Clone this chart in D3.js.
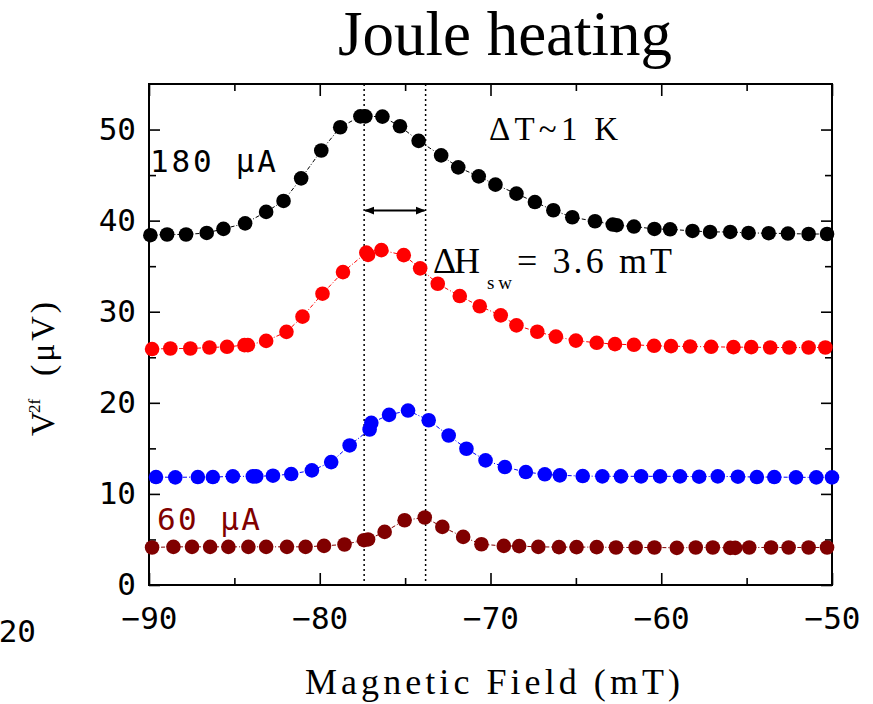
<!DOCTYPE html>
<html>
<head>
<meta charset="utf-8">
<script src="https://cdn.jsdelivr.net/npm/d3@7"></script>
<style>
  body { margin: 0; background: #fff; }
  svg { display: block; }
</style>
</head>
<body>
<div id="chart-area"></div>
<script>
// field (mT) and V2f (uV), one pair per current
const field180 = [-89.92, -88.94, -87.83, -86.62, -85.64, -84.37, -83.14, -82.12, -81.09, -79.91,
  -78.80, -77.62, -77.33, -76.33, -75.30, -74.21, -72.89, -71.89, -70.69, -69.71,
  -68.48, -67.40, -66.32, -65.21, -63.88, -62.84, -62.61, -61.60, -60.40, -59.48,
  -58.17, -57.14, -55.96, -54.89, -53.71, -52.58, -51.37, -50.29]
const v180 = [38.4, 38.48, 38.48, 38.65, 39.1, 39.7, 40.96, 42.16, 44.64, 47.7,
  50.25, 51.45, 51.45, 51.42, 50.36, 48.76, 47.16, 45.85, 44.86, 43.95,
  42.96, 42.04, 41.14, 40.37, 39.93, 39.57, 39.5, 39.35, 39.09, 39.05,
  38.87, 38.76, 38.76, 38.65, 38.62, 38.58, 38.53, 38.53]

const fieldRed = [-89.82, -88.75, -87.58, -86.46, -85.43, -84.41, -84.21, -83.14, -81.95, -81.01,
  -79.84, -78.64, -77.27, -77.17, -76.39, -75.08, -74.12, -73.09, -71.80, -70.63,
  -69.40, -68.48, -67.26, -66.17, -65.0, -63.78, -62.71, -61.60, -60.42, -59.43,
  -58.31, -57.08, -55.77, -54.73, -53.62, -52.50, -51.37, -50.39]
const vRed = [25.9, 25.96, 25.96, 26.07, 26.15, 26.33, 26.33, 26.8, 27.79, 29.46,
  31.98, 34.35, 36.49, 36.24, 36.76, 36.21, 34.76, 33.07, 31.72, 30.6,
  29.6, 28.5, 27.8, 27.27, 26.83, 26.59, 26.44, 26.37, 26.26, 26.22,
  26.18, 26.15, 26.11, 26.11, 26.07, 26.07, 26.07, 26.07]

const fieldBlue = [-89.59, -88.46, -87.14, -86.26, -85.09, -83.92, -83.72, -82.74, -81.67, -80.46,
  -79.33, -78.25, -77.08, -76.98, -75.94, -74.83, -73.62, -72.45, -71.41, -70.29,
  -69.16, -67.93, -66.82, -65.94, -64.60, -63.45, -62.36, -61.18, -60.07, -58.90,
  -57.78, -56.69, -55.51, -54.40, -53.38, -52.11, -50.92, -50.0]
const vBlue = [11.85, 11.82, 11.85, 11.85, 11.93, 11.93, 11.93, 12.0, 12.18, 12.58,
  13.49, 15.32, 17.07, 17.8, 18.68, 19.15, 18.09, 16.41, 14.96, 13.68,
  12.95, 12.4, 12.15, 12.04, 11.96, 11.93, 11.93, 11.93, 11.93, 11.93,
  11.89, 11.93, 11.89, 11.85, 11.85, 11.82, 11.82, 11.82]

const field60 = [-89.82, -88.57, -87.48, -86.42, -85.35, -84.18, -83.14, -81.92, -80.83, -79.75,
  -78.55, -77.41, -77.17, -76.20, -75.03, -73.85, -72.82, -71.60, -70.53, -69.22,
  -68.32, -67.20, -65.99, -64.96, -63.78, -62.65, -61.50, -60.40, -59.09, -57.98,
  -56.98, -55.96, -55.67, -54.85, -53.57, -52.54, -51.37, -50.29]
const v60 = [4.12, 4.19, 4.19, 4.19, 4.19, 4.19, 4.19, 4.19, 4.19, 4.3,
  4.45, 4.92, 5.0, 5.83, 7.11, 7.41, 6.38, 5.28, 4.47, 4.29,
  4.27, 4.19, 4.16, 4.16, 4.16, 4.12, 4.12, 4.12, 4.08, 4.12,
  4.12, 4.08, 4.08, 4.12, 4.12, 4.12, 4.12, 4.12]

const switchFields = [-77.4, -73.8]
const arrowLevel = 41.1

const xMajor = [-90, -80, -70, -60, -50]
const xMinor = [-85, -75, -65, -55]
const yMajor = [0, 10, 20, 30, 40, 50]
const yMinor = [5, 15, 25, 35, 45]

const WIDTH = 873, HEIGHT = 704
const LEFT = 149, RIGHT = 832, TOP = 84, BOTTOM = 585

const SERIF = "Liberation Serif, serif"
const MONO = "DejaVu Sans Mono, monospace"

const svg = d3.select("#chart-area").append("svg")
  .attr("width", WIDTH)
  .attr("height", HEIGHT)

const defs = svg.append("defs")
defs.append("marker")
  .attr("id", "head")
  .attr("viewBox", "0 0 10 10")
  .attr("refX", 9).attr("refY", 5)
  .attr("markerWidth", 5).attr("markerHeight", 5)
  .attr("markerUnits", "strokeWidth")
  .attr("orient", "auto-start-reverse")
  .append("path")
  .attr("d", "M0,1 L10,5 L0,9 Z")
  .attr("fill", "#000")

const x = d3.scaleLinear().domain([-90, -50]).range([LEFT, RIGHT])
const y = d3.scaleLinear().domain([0, 55]).range([BOTTOM, TOP])

// Title
svg.append("text")
  .attr("x", 505).attr("y", 55)
  .attr("text-anchor", "middle")
  .attr("font-family", SERIF)
  .attr("font-size", "63px")
  .text("Joule heating")

// frame
svg.append("rect")
  .attr("x", LEFT).attr("y", TOP)
  .attr("width", RIGHT - LEFT).attr("height", BOTTOM - TOP)
  .attr("fill", "none")
  .attr("stroke", "#000")
  .attr("stroke-width", 2)

function styleAxis(sel) {
  sel.select(".domain").remove()
  sel.selectAll("line").attr("stroke", "#000").attr("stroke-width", 1.6)
  sel.selectAll("text")
    .attr("font-family", MONO)
    .attr("font-size", "31px")
    .attr("fill", "#000")
}

// X axes (bottom with labels, top without)
const xAxisGroup = svg.append("g")
  .attr("transform", `translate(0, ${BOTTOM})`)
  .call(d3.axisBottom(x).tickValues(xMajor).tickSize(-12).tickPadding(0))
  .call(styleAxis)
xAxisGroup.selectAll("text").attr("dy", null).attr("y", 44)

svg.append("g")
  .attr("transform", `translate(0, ${BOTTOM})`)
  .call(d3.axisBottom(x).tickValues(xMinor).tickSize(-7).tickFormat(""))
  .call(styleAxis)

svg.append("g")
  .attr("transform", `translate(0, ${TOP})`)
  .call(d3.axisTop(x).tickValues(xMajor).tickSize(-12).tickFormat(""))
  .call(styleAxis)
svg.append("g")
  .attr("transform", `translate(0, ${TOP})`)
  .call(d3.axisTop(x).tickValues(xMinor).tickSize(-7).tickFormat(""))
  .call(styleAxis)

// Y axes
svg.append("g")
  .attr("transform", `translate(${LEFT}, 0)`)
  .call(d3.axisLeft(y).tickValues(yMajor).tickSize(-11).tickPadding(13))
  .call(styleAxis)
svg.append("g")
  .attr("transform", `translate(${LEFT}, 0)`)
  .call(d3.axisLeft(y).tickValues(yMinor).tickSize(-7).tickFormat(""))
  .call(styleAxis)
svg.append("g")
  .attr("transform", `translate(${RIGHT}, 0)`)
  .call(d3.axisRight(y).tickValues(yMajor).tickSize(-11).tickFormat(""))
  .call(styleAxis)
svg.append("g")
  .attr("transform", `translate(${RIGHT}, 0)`)
  .call(d3.axisRight(y).tickValues(yMinor).tickSize(-7).tickFormat(""))
  .call(styleAxis)

// stray label at lower left
svg.append("text")
  .attr("x", 36).attr("y", 642)
  .attr("text-anchor", "end")
  .attr("font-family", MONO)
  .attr("font-size", "31px")
  .text("20")

// switching field markers
svg.selectAll(".sw-line")
  .data(switchFields)
  .enter().append("line")
  .attr("class", "sw-line")
  .attr("x1", d => x(d)).attr("x2", d => x(d))
  .attr("y1", TOP).attr("y2", BOTTOM)
  .attr("stroke", "#000")
  .attr("stroke-width", 1.5)
  .attr("stroke-dasharray", "2,3")

svg.append("line")
  .attr("x1", x(switchFields[0]) + 1).attr("x2", x(switchFields[1]) - 1)
  .attr("y1", y(arrowLevel)).attr("y2", y(arrowLevel))
  .attr("stroke", "#000")
  .attr("stroke-width", 2)
  .attr("marker-start", "url(#head)")
  .attr("marker-end", "url(#head)")

// data series
const series = [
  { xs: field60, ys: v60, color: "#800000" },
  { xs: fieldBlue, ys: vBlue, color: "#0000ff" },
  { xs: fieldRed, ys: vRed, color: "#ff0000" },
  { xs: field180, ys: v180, color: "#000000" }
]

const line = d3.line()
  .x(d => x(d[0]))
  .y(d => y(d[1]))

series.forEach(s => {
  const pts = s.xs.map((f, i) => [f, s.ys[i]])
  svg.append("path")
    .datum(pts)
    .attr("d", line)
    .attr("fill", "none")
    .attr("stroke", s.color)
    .attr("stroke-width", 1)
    .attr("stroke-dasharray", "4,2,1,2")

  svg.append("g").selectAll("circle")
    .data(pts)
    .enter().append("circle")
    .attr("cx", d => x(d[0]))
    .attr("cy", d => y(d[1]))
    .attr("r", 7.3)
    .attr("fill", s.color)
})

// annotations
svg.append("text")
  .attr("x", 150).attr("y", 172)
  .attr("font-family", MONO)
  .attr("font-size", "31px")
  .attr("textLength", 126).attr("lengthAdjust", "spacing")
  .text("180 μA")

svg.append("text")
  .attr("x", 157).attr("y", 530)
  .attr("font-family", MONO)
  .attr("font-size", "31px")
  .attr("textLength", 103).attr("lengthAdjust", "spacing")
  .attr("fill", "#800000")
  .text("60 μA")

svg.append("text")
  .attr("x", 489).attr("y", 140)
  .attr("font-family", SERIF)
  .attr("font-size", "33px")
  .attr("textLength", 129).attr("lengthAdjust", "spacing")
  .text("ΔT~1 K")

const dh = svg.append("text")
  .attr("font-family", SERIF)
  .attr("font-size", "36px")
dh.append("tspan").attr("x", 433).attr("y", 273)
  .attr("textLength", 47).attr("lengthAdjust", "spacing").text("ΔH")
dh.append("tspan").attr("x", 487).attr("y", 289).attr("font-size", "19px")
  .attr("textLength", 25).attr("lengthAdjust", "spacing").text("sw")
dh.append("tspan").attr("x", 517).attr("y", 273)
  .attr("textLength", 155).attr("lengthAdjust", "spacing").text("= 3.6 mT")

// axis titles
svg.append("text")
  .attr("x", 305).attr("y", 694)
  .attr("font-family", SERIF)
  .attr("font-size", "36px")
  .attr("textLength", 375)
  .attr("lengthAdjust", "spacing")
  .text("Magnetic Field (mT)")

const yLabel = svg.append("g")
  .attr("transform", "translate(54, 436) rotate(-90)")
  .attr("font-family", SERIF)
yLabel.append("text").attr("x", 0).attr("y", 0)
  .attr("font-size", "34px").text("V")
yLabel.append("text").attr("x", 23).attr("y", -14)
  .attr("font-size", "17px").text("2f")
yLabel.append("text").attr("x", 60).attr("y", 0)
  .attr("font-size", "34px")
  .attr("textLength", 74).attr("lengthAdjust", "spacing").text("(μV)")
</script>
</body>
</html>
